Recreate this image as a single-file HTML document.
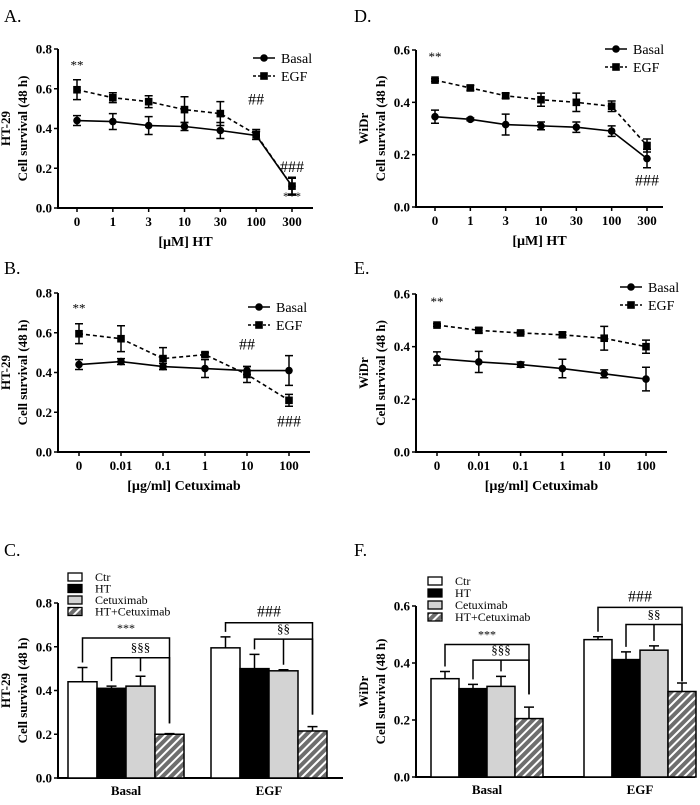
<!DOCTYPE html>
<html><head><meta charset="utf-8"><style>
html,body{margin:0;padding:0;background:#fff;}
svg{display:block;font-family:"Liberation Serif",serif;}
</style></head><body>
<svg id="fig" width="700" height="805" viewBox="0 0 700 805">
<defs>
<pattern id="hatch" patternUnits="userSpaceOnUse" width="6" height="6" patternTransform="rotate(45)">
<rect width="6" height="6" fill="#6e6e6e"/><rect x="0" y="0" width="2" height="6" fill="#fff"/>
</pattern>
</defs>
</svg>
<script>
// Panel A data
const aCats=["0","1","3","10","30","100","300"];
const aBasal=[0.44,0.435,0.415,0.41,0.39,0.365,0.11];
const aBasalErr=[0.025,0.04,0.045,0.02,0.04,0.02,0.04];
const aEgf=[0.595,0.555,0.535,0.495,0.475,0.37,0.11];
const aEgfErr=[0.05,0.025,0.03,0.065,0.06,0.025,0.045];
// Panel B data
const bCats=["0","0.01","0.1","1","10","100"];
const bBasal=[0.44,0.455,0.43,0.42,0.41,0.41];
const bBasalErr=[0.025,0.015,0.015,0.045,0.02,0.075];
const bEgf=[0.595,0.57,0.47,0.49,0.39,0.26];
const bEgfErr=[0.05,0.065,0.055,0.01,0.04,0.03];
// Panel D data
const dCats=["0","1","3","10","30","100","300"];
const dBasal=[0.345,0.335,0.315,0.31,0.305,0.29,0.185];
const dBasalErr=[0.025,0.005,0.04,0.015,0.02,0.02,0.035];
const dEgf=[0.485,0.455,0.425,0.41,0.40,0.385,0.235];
const dEgfErr=[0.005,0.01,0.01,0.025,0.035,0.02,0.025];
// Panel E data
const eCats=["0","0.01","0.1","1","10","100"];
const eBasal=[0.355,0.342,0.332,0.317,0.297,0.277];
const eBasalErr=[0.025,0.04,0.01,0.035,0.015,0.045];
const eEgf=[0.482,0.462,0.452,0.445,0.432,0.40];
const eEgfErr=[0.005,0.01,0.005,0.01,0.045,0.025];
// Bar panels
const barGroups=["Basal","EGF"];
const barSeries=["Ctr","HT","Cetuximab","HT+Cetuximab"];
const cVals=[[0.44,0.41,0.42,0.20],[0.595,0.50,0.49,0.215]];
const cErr=[[0.065,0.01,0.045,0.003],[0.05,0.065,0.005,0.02]];
const fVals=[[0.345,0.31,0.318,0.205],[0.482,0.412,0.445,0.30]];
const fErr=[[0.025,0.015,0.035,0.04],[0.01,0.027,0.015,0.03]];
const c8Ticks=["0.0","0.2","0.4","0.6","0.8"];
const c6Ticks=["0.0","0.2","0.4","0.6"];

const NS="http://www.w3.org/2000/svg";
const svg=document.getElementById('fig');
function mk(tag,attrs,parent,text){const e=document.createElementNS(NS,tag);for(const k in attrs)e.setAttribute(k,attrs[k]);if(text!==undefined)e.textContent=text;(parent||svg).appendChild(e);return e;}

function axes(g,ax,y0,yTop,ticks,xEnd,t1,t2){
  const n=ticks.length;
  let e=mk('line',{x1:ax,y1:yTop,x2:ax,y2:y0,stroke:'#000','stroke-width':2},g);
  
  e=mk('line',{x1:ax-1,y1:y0,x2:xEnd,y2:y0,stroke:'#000','stroke-width':2},g);
  
  ticks.forEach((t,i)=>{const y=y0-(y0-yTop)*i/(n-1);
    mk('line',{x1:ax-4,y1:y,x2:ax,y2:y,stroke:'#000','stroke-width':1.5},g);
    e=mk('text',{x:ax-6,y:y+4.5,'text-anchor':'end','font-size':13,'font-weight':'bold'},g,t);
    });
  const cy=(y0+yTop)/2;
  e=mk('text',{x:0,y:0,transform:`translate(${ax-48},${cy}) rotate(-90)`,'text-anchor':'middle','font-size':13,'font-weight':'bold'},g,t1);
  
  e=mk('text',{x:0,y:0,transform:`translate(${ax-31},${cy}) rotate(-90)`,'text-anchor':'middle','font-size':13,'font-weight':'bold'},g,t2);
  
}

function linePanel(o){
  const g=mk('g',{});
  
  let e=mk('text',{x:o.lx,y:o.ly,'font-size':18},g,o.label);
  
  axes(g,o.ax,o.y0,o.yTop,o.ticks,o.xEnd,o.t1,o.t2);
  const ymax=0.2*(o.ticks.length-1);
  const ys=v=>o.y0-(o.y0-o.yTop)*v/ymax;
  const n=o.cats.length;
  const xs=i=>o.x1+(o.x2-o.x1)*i/(n-1);
  o.cats.forEach((c,i)=>{mk('line',{x1:xs(i),y1:o.y0,x2:xs(i),y2:o.y0+4,stroke:'#000','stroke-width':1.5},g);
    e=mk('text',{x:xs(i),y:o.y0+18,'text-anchor':'middle','font-size':13,'font-weight':'bold'},g,c);
    });
  e=mk('text',{x:(o.ax+o.xEnd)/2,y:o.y0+38,'text-anchor':'middle','font-size':14,'font-weight':'bold'},g,o.xt);
  
  [[o.basal,o.basalErr,'basal',null],[o.egf,o.egfErr,'egf','4,3']].forEach(([vals,err,nm,dash])=>{
    const pts=vals.map((v,i)=>xs(i)+','+ys(v)).join(' ');
    const a={points:pts,fill:'none',stroke:'#000','stroke-width':1.6};if(dash)a['stroke-dasharray']=dash;
    e=mk('polyline',a,g);
    vals.forEach((v,i)=>{const x=xs(i),y1=ys(v+err[i]),y2=ys(v-err[i]);
      e=mk('path',{d:`M${x},${y1}V${y2}M${x-4},${y1}H${x+4}M${x-4},${y2}H${x+4}`,stroke:'#000','stroke-width':1.5,fill:'none'},g);
      
      if(nm==='basal')e=mk('circle',{cx:x,cy:ys(v),r:3.8,fill:'#000'},g);
      else e=mk('rect',{x:x-3.8,y:ys(v)-3.8,width:7.6,height:7.6,fill:'#000'},g);
      });
  });
  [['Basal',null,0],['EGF','3,2',1]].forEach(([t,d,k])=>{const y=o.legY+k*18;
    const a={x1:o.legX,y1:y,x2:o.legX+22,y2:y,stroke:'#000','stroke-width':1.6};if(d)a['stroke-dasharray']=d;
    mk('line',a,g);
    if(k===0)mk('circle',{cx:o.legX+11,cy:y,r:3.8,fill:'#000'},g);else mk('rect',{x:o.legX+7.2,y:y-3.8,width:7.6,height:7.6,fill:'#000'},g);
    e=mk('text',{x:o.legX+28,y:y+5,'font-size':14},g,t);
    });
  o.ann.forEach(([t,i,v,dy,fs])=>{e=mk('text',{x:xs(i),y:ys(v)+dy,'text-anchor':'middle','font-size':fs},g,t);
    });
}

linePanel({name:'panel-a',label:'A.',lx:4,ly:22,ax:58,y0:208,yTop:49,xEnd:313,x1:77,x2:292,ticks:c8Ticks,cats:aCats,
  basal:aBasal,basalErr:aBasalErr,egf:aEgf,egfErr:aEgfErr,t1:'HT-29',t2:'Cell survival (48 h)',xt:'[µM] HT',legX:253,legY:58,
  ann:[['**',0,0.595,-20,13],['##',5,0.37,-30,16],['###',6,0.11,-14,16],['***',6,0.11,14,12]]});
linePanel({name:'panel-b',label:'B.',lx:4,ly:274,ax:58,y0:452,yTop:293,xEnd:310,x1:79,x2:289,ticks:c8Ticks,cats:bCats,
  basal:bBasal,basalErr:bBasalErr,egf:bEgf,egfErr:bEgfErr,t1:'HT-29',t2:'Cell survival (48 h)',xt:'[µg/ml] Cetuximab',legX:248,legY:307,
  ann:[['**',0,0.595,-21,13],['##',4,0.39,-25,16],['###',5,0.26,26,16]]});
linePanel({name:'panel-d',label:'D.',lx:354,ly:22,ax:416,y0:207,yTop:50,xEnd:663,x1:435,x2:647,ticks:c6Ticks,cats:dCats,
  basal:dBasal,basalErr:dBasalErr,egf:dEgf,egfErr:dEgfErr,t1:'WiDr',t2:'Cell survival (48 h)',xt:'[µM] HT',legX:605,legY:49,
  ann:[['**',0,0.485,-19,13],['###',6,0.185,27,16]]});
linePanel({name:'panel-e',label:'E.',lx:354,ly:274,ax:416,y0:452,yTop:294,xEnd:667,x1:437,x2:646,ticks:c6Ticks,cats:eCats,
  basal:eBasal,basalErr:eBasalErr,egf:eEgf,egfErr:eEgfErr,t1:'WiDr',t2:'Cell survival (48 h)',xt:'[µg/ml] Cetuximab',legX:620,legY:287,
  ann:[['**',0,0.482,-19,13]]});

function barPanel(o){
  const g=mk('g',{});
  
  let e=mk('text',{x:o.lx,y:o.ly,'font-size':18},g,o.label);
  
  axes(g,o.ax,o.y0,o.yTop,o.ticks,o.xEnd,o.t1,o.t2);
  const ymax=0.2*(o.ticks.length-1);
  const ys=v=>o.y0-(o.y0-o.yTop)*v/ymax;
  const fills=['#fff','#000','#d3d3d3','url(#hatch)'];
  const bx=(gi,si)=>o.gx[gi]+(si-2)*o.bw;
  barGroups.forEach((gn,gi)=>{
    e=mk('text',{x:o.gx[gi],y:o.y0+17,'text-anchor':'middle','font-size':13,'font-weight':'bold'},g,gn);
    
    o.vals[gi].forEach((v,si)=>{const x=bx(gi,si),cx=x+o.bw/2,ye=ys(v+o.err[gi][si]);
      mk('path',{d:`M${cx},${ys(v)}V${ye}M${cx-5},${ye}H${cx+5}`,stroke:'#000','stroke-width':1.5},g);
      e=mk('rect',{x:x,y:ys(v),width:o.bw,height:o.y0-ys(v),fill:fills[si],stroke:'#000','stroke-width':1.5},g);
      });
    const cen=si=>bx(gi,si)+o.bw/2;
    const topOf=si=>ys(o.vals[gi][si]+o.err[gi][si])-5;
    o.br[gi].forEach(([from,mid,lv,rv,label,fs])=>{
      const yb=ys(lv);
      let d=`M${cen(from)},${topOf(from)}V${yb}H${cen(3)}V${ys(rv)}`;
      if(mid!==null)d+=`M${cen(mid)},${yb}V${topOf(mid)}`;
      e=mk('path',{d:d,stroke:'#000','stroke-width':1.5,fill:'none'},g);
      
      e=mk('text',{x:(cen(from)+cen(3))/2,y:yb-6,'text-anchor':'middle','font-size':fs},g,label);
      });
  });
  barSeries.forEach((s,si)=>{const y=o.legY+si*o.legStep;
    mk('rect',{x:o.legX,y:y-4,width:14,height:8,fill:fills[si],stroke:'#000','stroke-width':1.3},g);
    e=mk('text',{x:o.legX+27,y:y+4,'font-size':12},g,s);
    });
}
barPanel({name:'panel-c',label:'C.',lx:4,ly:556,ax:58,y0:778,yTop:603,xEnd:343,gx:[126,269],bw:29,ticks:c8Ticks,vals:cVals,err:cErr,
  t1:'HT-29',t2:'Cell survival (48 h)',legX:68,legY:577,legStep:11.5,
  br:[[[0,null,0.64,0.25,'***',12],[1,2,0.55,0.25,'§§§',13]],[[0,null,0.71,0.29,'###',16],[1,2,0.635,0.29,'§§',13]]]});
barPanel({name:'panel-f',label:'F.',lx:354,ly:556,ax:416,y0:777,yTop:606,xEnd:695,gx:[487,640],bw:28,ticks:c6Ticks,vals:fVals,err:fErr,
  t1:'WiDr',t2:'Cell survival (48 h)',legX:428,legY:581,legStep:12,
  br:[[[0,null,0.465,0.29,'***',12],[1,2,0.41,0.29,'§§§',13]],[[0,null,0.595,0.335,'###',16],[1,2,0.535,0.335,'§§',13]]]});
</script>
</body></html>
